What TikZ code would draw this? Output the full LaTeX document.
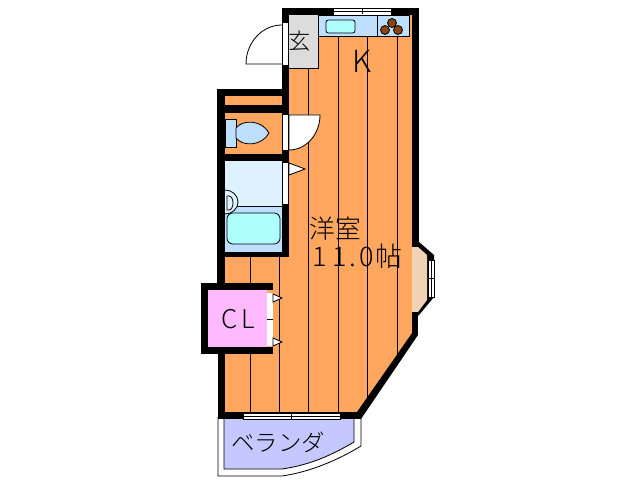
\documentclass[tikz,border=0pt]{standalone}
\usepackage{fontspec}
\newfontfamily\cjk[UprightFont={* Light}]{Noto Sans CJK JP}
\tikzset{
  wall/.style={fill=black,draw=none},
  floorline/.style={line width=0.7pt,black},
  fitting/.style={draw=black,line width=0.7pt},
  doorleaf/.style={draw=black,fill=white,line width=0.7pt},
  sash/.style={draw=none,fill=white},
  roomtext/.style={inner sep=0pt,black}
}
\definecolor{floorcol}{HTML}{FFA65F}
\definecolor{counter}{HTML}{BFDFFF}
\definecolor{bathtop}{HTML}{DDF1FF}
\definecolor{tubcol}{HTML}{AFFFFF}
\definecolor{closet}{HTML}{FFB9FF}
\definecolor{balcony}{HTML}{C4C8FF}
\definecolor{baycol}{HTML}{F2D2B4}
\definecolor{entry}{HTML}{DCDCDC}
\definecolor{burner}{HTML}{8B4513}
\begin{document}
\begin{tikzpicture}[x=0.03cm,y=-0.03cm]
\useasboundingbox (0,0) rectangle (638,480);

% Floor
\fill[floorcol] (289,15) -- (412,15) -- (412,333) -- (357,412) -- (225,412) -- (225,96) -- (289,96) -- cycle;

% Boards
\draw[floorline] (308,36) -- (308,412);
\draw[floorline] (338,36) -- (338,412);
\draw[floorline] (367,36) -- (367,398);
\draw[floorline] (397,36) -- (397,355);
\draw[floorline] (279,257) -- (279,412);
\draw[floorline] (250,257) -- (250,412);

% Entry
\fill[entry] (289,15) rectangle (318,68);
\draw[fitting] (318,15) -- (318,68) -- (289,68);

% Kitchen
\draw[fitting,fill=counter] (318,15) rectangle (409,36);
\draw[fitting] (377,15) -- (377,36);
\draw[fitting,fill=tubcol,rounded corners=2pt] (326,20) rectangle (355,33);
\draw[fitting,fill=burner] (392,23) circle (4.5);
\draw[fitting,fill=burner] (385,30) circle (4.5);
\draw[fitting,fill=burner] (398,30) circle (4.5);

% Toilet
\draw[fitting,fill=counter] (225,119) rectangle (236,147);
\draw[fitting,fill=counter] (236,128) .. controls (243,119) and (262,120) .. (269,133) .. controls (262,146) and (243,147) .. (236,138) -- cycle;

% Bath
\fill[bathtop] (225,161) rectangle (282,206);
\fill[counter] (225,206) rectangle (282,252);
\draw[fitting] (225,206) -- (282,206);
\draw[fitting,fill=tubcol,rounded corners=5pt] (227,213) rectangle (280,244);
\draw[fitting,fill=bathtop] (225,190) arc (-90:90:13 and 12);
\draw[fitting] (227,196) -- (229,196) arc (-90:90:4 and 7) -- (227,210) -- cycle;

% Closet
\fill[closet] (208,290) rectangle (267,347);

% Balcony
\draw[fitting,fill=white] (218,417) -- (218,476) -- (282,476) .. controls (310,472) and (338,460) .. (361,446) -- (361,417);
\draw[fitting,fill=balcony] (224,419) -- (224,469) -- (282,469) .. controls (310,465) and (332,455) .. (354,442) -- (354,419);

% Bay window
\fill[wall] (412,240) -- (419,242) -- (434,255) -- (434,297) -- (419,315) -- (412,320) -- cycle;
\fill[baycol] (412,247) -- (418,247) -- (427,255) -- (427,300) -- (418,312) -- (412,312) -- cycle;

% Walls
\fill[wall] (282,8) rectangle (419,15);
\fill[wall] (412,8) rectangle (419,247);
\fill[wall] (412,312) rectangle (418,335);
\fill[wall] (412,333) -- (418,335) -- (361,419) -- (357,412) -- cycle;
\fill[wall] (282,8) rectangle (289,113);
\fill[wall] (217,89) rectangle (289,96);
\fill[wall] (217,105) rectangle (289,113);
\fill[wall] (217,89) rectangle (225,290);
\fill[wall] (282,113) rectangle (289,257);
\fill[wall] (217,154) rectangle (289,161);
\fill[wall] (218,252) rectangle (289,257);
\fill[wall] (201,283) rectangle (273,290);
\fill[wall] (201,347) rectangle (273,354);
\fill[wall] (201,283) rectangle (208,354);
\fill[wall] (218,354) rectangle (225,417);
\fill[wall] (218,412) rectangle (361,419);

% Doors
\fill[sash] (283,23) rectangle (288,65);
\draw[doorleaf,fill=none] (282,25) arc (270:180:36 and 39) -- (282,64);
\fill[sash] (283,115) rectangle (288,150);
\draw[doorleaf] (289,115) -- (320,115) arc (0:90:31 and 35) -- cycle;
\fill[sash] (283,163) rectangle (288,204);
\draw[doorleaf] (289,163) -- (305,169) -- (289,175) -- cycle;
\fill[sash] (267,293) rectangle (273,346);
\draw[fitting] (267,319) -- (273,319);
\draw[doorleaf] (273,294) -- (282,298) -- (273,302) -- cycle;
\draw[doorleaf] (273,338) -- (282,342) -- (273,346) -- cycle;

% Windows
\draw[doorleaf] (333,8) rectangle (391,15);
\draw[fitting] (333,11.5) -- (391,11.5);
\draw[fitting] (362,9) -- (362,14);
\draw[doorleaf] (243,413) rectangle (340,419);
\draw[fitting] (243,416) -- (340,416);
\draw[fitting] (291,413) -- (291,419);
\draw[doorleaf] (428,260) rectangle (434,297);
\draw[fitting] (431,260) -- (431,297);
\draw[fitting] (428,278) -- (434,278);

% Labels
\node[roomtext,font=\cjk\fontsize{19}{19}\selectfont] (genkan) at (299.5,41.5) {玄};
\node[roomtext,font=\cjk\fontsize{26}{26}\selectfont] (kitchen) at (362,61) {K};
\node[roomtext,font=\cjk\fontsize{22}{22}\selectfont] (room) at (335.5,228.5) {洋室};
\node[roomtext,font=\cjk\fontsize{23}{23}\selectfont,anchor=west] (size) at (312,256) {1\kern5pt 1\kern2pt .\kern3pt 0\kern1pt 帖};
\node[roomtext,font=\cjk\fontsize{22}{22}\selectfont] (cl) at (238.5,319.5) {C\kern3pt L};
\node[roomtext,font=\cjk\fontsize{20}{20}\selectfont] (veranda) at (278,442.5) {ベランダ};
\end{tikzpicture}
\end{document}
